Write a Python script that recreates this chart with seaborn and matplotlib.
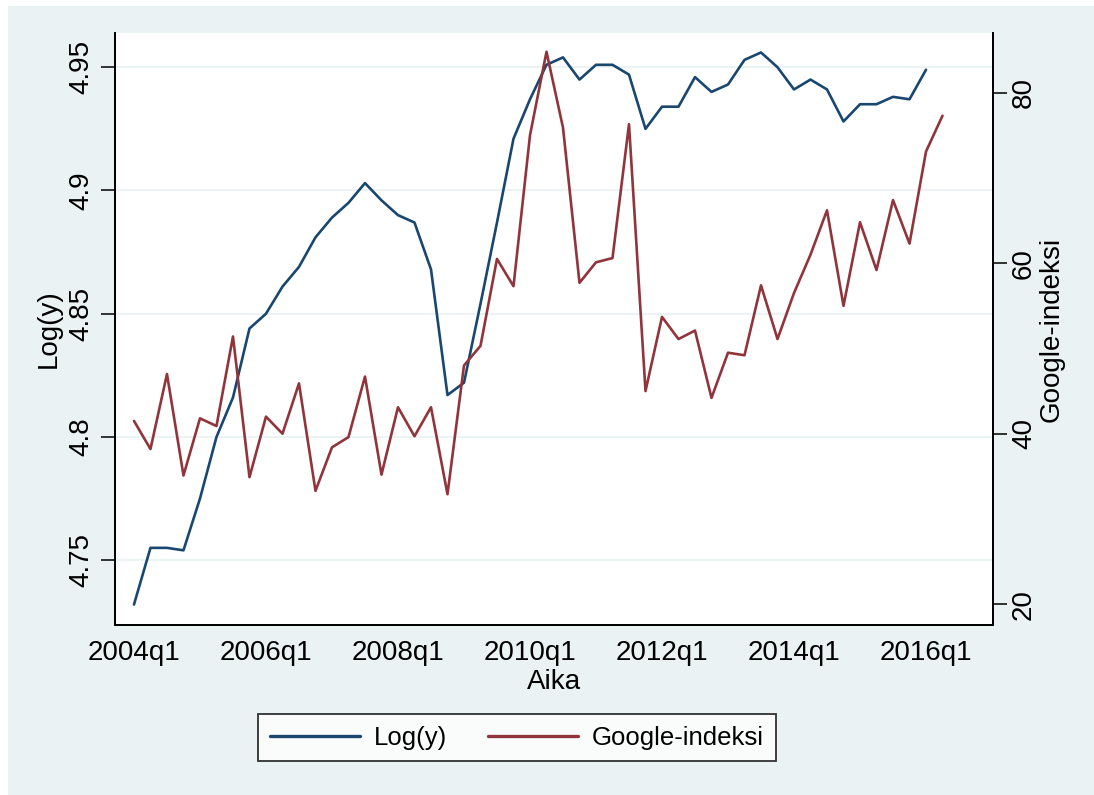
import numpy as np
import pandas as pd
import matplotlib
matplotlib.use("Agg")
import matplotlib.pyplot as plt
from matplotlib.patches import Rectangle
from matplotlib.lines import Line2D
import seaborn as sns

# ---- data ----
log_y = [4.732, 4.755, 4.755, 4.754, 4.775, 4.800, 4.816, 4.844, 4.850,
         4.861, 4.869, 4.881, 4.889, 4.895, 4.903, 4.896, 4.890, 4.887,
         4.868, 4.817, 4.822, 4.854, 4.887, 4.921, 4.937, 4.951, 4.954,
         4.945, 4.951, 4.951, 4.947, 4.925, 4.934, 4.934, 4.946, 4.940,
         4.943, 4.953, 4.956, 4.950, 4.941, 4.945, 4.941, 4.928, 4.935,
         4.935, 4.938, 4.937, 4.949, np.nan]
google = [41.5, 38.2, 47.0, 35.1, 41.8, 40.9, 51.4, 34.9, 42.0, 40.0,
          45.9, 33.3, 38.4, 39.6, 46.7, 35.2, 43.1, 39.7, 43.1, 32.9,
          48.0, 50.3, 60.5, 57.3, 75.0, 84.8, 75.9, 57.7, 60.1, 60.6,
          76.3, 45.0, 53.7, 51.1, 52.1, 44.2, 49.5, 49.2, 57.4, 51.1,
          56.5, 61.0, 66.2, 55.0, 64.8, 59.2, 67.4, 62.3, 73.1, 77.3]
quarters = [f"{y}q{q}" for y in range(2004, 2017) for q in range(1, 5)][:len(google)]
xtick_labels = ["2004q1", "2006q1", "2008q1", "2010q1", "2012q1", "2014q1", "2016q1"]
left_ticks = [4.75, 4.8, 4.85, 4.9, 4.95]
left_tick_labels = ["4.75", "4.8", "4.85", "4.9", "4.95"]
right_ticks = [20, 40, 60, 80]

df = pd.DataFrame({"t": np.arange(len(quarters)), "quarter": quarters,
                   "logy": log_y, "google": google})

BLUE = "#1a476f"
RED = "#90353b"
BG = "#eaf2f3"

sns.set_style("white")
plt.rcParams["font.family"] = ["Liberation Sans", "DejaVu Sans"]
plt.rcParams["text.color"] = "black"
plt.rcParams["axes.labelcolor"] = "black"
plt.rcParams["xtick.color"] = "black"
plt.rcParams["ytick.color"] = "black"

W, H = 1094, 795
fig = plt.figure(figsize=(W / 100, H / 100), dpi=100, facecolor="white")
fig.patches.append(Rectangle((8 / W, 0), 1 - 8 / W, 1 - 6 / H,
                             transform=fig.transFigure, facecolor=BG,
                             edgecolor="none", zorder=-10))

L, R, T, B = 115, 993, 33, 625
ax = fig.add_axes([L / W, 1 - B / H, (R - L) / W, (B - T) / H])
ax.set_facecolor("white")

sns.lineplot(data=df, x="t", y="logy", ax=ax, color=BLUE, linewidth=1.9, legend=False)
ax2 = ax.twinx()
sns.lineplot(data=df, x="t", y="google", ax=ax2, color=RED, linewidth=1.9, legend=False)

xpos = [quarters.index(s) for s in xtick_labels]
ax.set_xlim(-1.15, 52.06)
ax.set_xticks(xpos)
ax.set_xticklabels(xtick_labels)

ax.set_ylim(4.7237, 4.9639)
ax.set_yticks(left_ticks)
ax.set_yticklabels(left_tick_labels, rotation=90, va="center")
ax2.set_ylim(17.56, 87.0)
ax2.set_yticks(right_ticks)
ax2.set_yticklabels([str(v) for v in right_ticks], rotation=90, va="center")

ax.grid(axis="y", color=BG, linewidth=1.3)
ax.set_axisbelow(True)

fs = 20
ax.tick_params(axis="x", length=10, width=1.1, color="black", labelcolor="black", labelsize=fs, pad=1)
ax.tick_params(axis="y", length=10, width=1.1, color="black", labelcolor="black", labelsize=fs, pad=5)
ax2.tick_params(axis="y", length=10, width=1.1, color="black", labelcolor="black", labelsize=fs, pad=3)

for a in (ax, ax2):
    for side in ("left", "right", "bottom"):
        a.spines[side].set_color("black")
        a.spines[side].set_linewidth(1.3)
    a.spines["top"].set_visible(False)

ax.set_xlabel("Aika", fontsize=fs, labelpad=2, color="black")
ax.set_ylabel("Log(y)", fontsize=fs, color="black")
ax.yaxis.set_label_coords((62 - L) / (R - L), 0.5)
ax2.set_ylabel("Google-indeksi", fontsize=fs, labelpad=1, color="black")

handles = [Line2D([], [], color=BLUE, linewidth=2.4),
           Line2D([], [], color=RED, linewidth=2.4)]
lfs = 18.5
leg = fig.legend(handles, ["Log(y)", "Google-indeksi"], ncol=2,
                 loc="center", bbox_to_anchor=((267 + 767) / 2 / W, 1 - 737.5 / H),
                 fontsize=lfs, frameon=True, fancybox=False, edgecolor="black",
                 handlelength=3.5, handletextpad=0.55, columnspacing=1.6,
                 borderpad=0.45, borderaxespad=0)
leg.get_frame().set_linewidth(1.3)
leg.get_frame().set_facecolor("white")
for t in leg.get_texts():
    t.set_color("black")

fig.savefig("out.png", dpi=100, facecolor="white")
